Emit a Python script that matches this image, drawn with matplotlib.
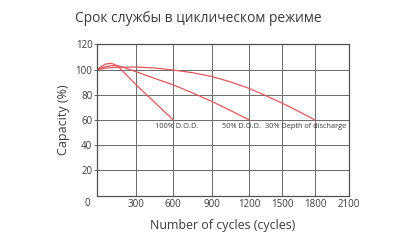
import numpy as np
import matplotlib
matplotlib.use("Agg")
import matplotlib.pyplot as plt

plt.rcParams['font.family'] = ['Open Sans', 'DejaVu Sans']

# Cycle-life data (capacity % vs number of cycles) for three depths of discharge
cycles_100 = [0, 30, 60, 100, 130, 170, 300, 450, 600]
capacity_100 = [100, 102.3, 104.2, 104.9, 104.3, 101.5, 88, 74, 60]

cycles_50 = [0, 50, 100, 150, 200, 300, 450, 600, 750, 900, 1050, 1200]
capacity_50 = [100, 101.8, 103, 103.2, 101.8, 98.3, 93, 87.8, 81.5, 74.8, 67.5, 60]

cycles_30 = [0, 75, 150, 300, 450, 600, 750, 900, 1050, 1200, 1350, 1500, 1650, 1800]
capacity_30 = [100, 101.2, 101.8, 102, 101.2, 99.6, 97.5, 94.5, 90.2, 85, 79.3, 73.3, 66.8, 60]

x_ticks = [300, 600, 900, 1200, 1500, 1800, 2100]
y_ticks = [20, 40, 60, 80, 100, 120]
curve_labels = ["100% D.O.D.", "50% D.O.D.", "30% Depth of discharge"]

# The printed grid is unevenly spaced; map cycle values onto it piecewise
grid_cycles = np.array([0, 300, 600, 900, 1200, 1500, 1800, 2100], dtype=float)
grid_frac = np.array([0.0, 38.7, 76.0, 114.4, 152.0, 185.0, 217.7, 251.4]) / 251.4


def fwd(x):
    return np.interp(x, grid_cycles, grid_frac * 2100)


def inv(x):
    return np.interp(x, grid_frac * 2100, grid_cycles)


line_color = "#e0585c"
grid_color = "#6a6a6a"
text_color = "#3a3a3a"

fig = plt.figure(figsize=(4.14, 2.40), dpi=100)
ax = fig.add_axes([97.3 / 414, 1 - 195.7 / 240, 251.4 / 414, 151.4 / 240])
ax.set_xscale("function", functions=(fwd, inv))
ax.set_xlim(0, 2100)
ax.set_ylim(0, 120)

ax.set_xticks(x_ticks)
ax.set_xticklabels([str(t) for t in x_ticks])
ax.set_yticks(y_ticks)
ax.set_yticklabels([str(t) for t in y_ticks])
ax.minorticks_off()
ax.grid(True, color=grid_color, linewidth=0.7)
ax.set_axisbelow(True)
for s in ax.spines.values():
    s.set_color("#505050")
    s.set_linewidth(0.9)

ax.tick_params(axis="x", length=0, pad=2.5, labelsize=7, labelcolor=text_color)
ax.tick_params(axis="y", length=2, width=0.7, color=grid_color, pad=1.5,
               labelsize=7, labelcolor=text_color)

ax.annotate("0", xy=(0, 0), xytext=(-7, -5.5), textcoords="offset points",
            ha="center", va="center", fontsize=7, color=text_color)

for cx, cy in [(cycles_100, capacity_100), (cycles_50, capacity_50), (cycles_30, capacity_30)]:
    ax.plot(cx, cy, color=line_color, linewidth=0.9, solid_joinstyle="round")

# Curve labels just below each end point
ends = [(cycles_100[-1], capacity_100[-1]), (cycles_50[-1], capacity_50[-1]),
        (cycles_30[-1], capacity_30[-1])]
offsets = [(-13.5, -2.2), (-20, -2.2), (-36, -2.2)]
for lab, (ex, ey), (ox, oy) in zip(curve_labels, ends, offsets):
    ax.annotate(lab, xy=(ex, ey), xytext=(ox, oy), textcoords="offset points",
                ha="left", va="top", fontsize=5.3, color=text_color)

ax.set_xlabel("Number of cycles (cycles)", fontsize=8.9, color=text_color, labelpad=6)
ax.set_ylabel("Capacity (%)", fontsize=9, color=text_color, labelpad=4)

fig.text(75 / 414, 1 - 19 / 240, "Срок службы в циклическом режиме",
         fontsize=9.9, color=text_color, ha="left", va="center")

fig.savefig("out.png", dpi=100, facecolor="white")
